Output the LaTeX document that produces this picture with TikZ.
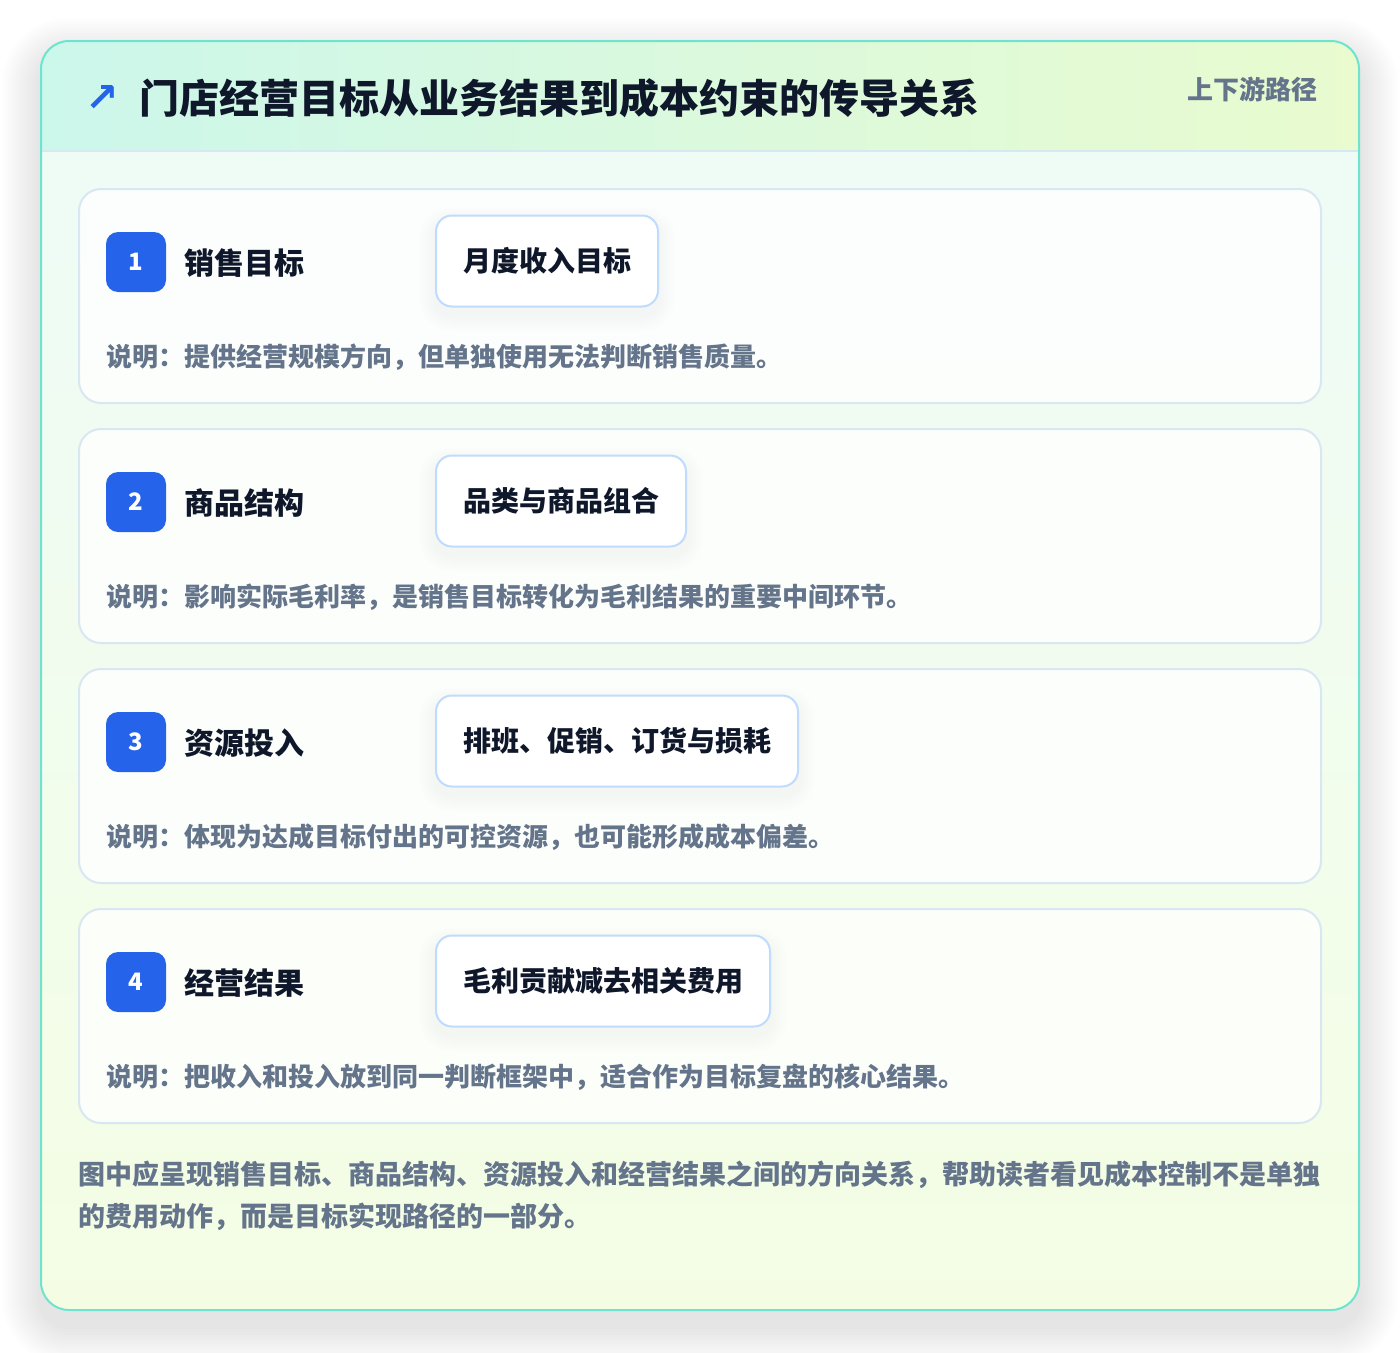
\documentclass[tikz,border=0pt]{standalone}
\usepackage{fontspec}
\setmainfont{Noto Sans CJK SC}
\newfontfamily\symfont{DejaVu Sans}

\definecolor{badgeblue}{HTML}{2563EB}
\definecolor{titleink}{HTML}{0F172A}
\definecolor{slate}{HTML}{64748B}
\definecolor{boxline}{HTML}{BFDBFE}
\definecolor{cardline}{HTML}{D9E7F3}
\definecolor{frameteal}{HTML}{6EE3CE}
\definecolor{headleft}{HTML}{CCF7EB}
\definecolor{headright}{HTML}{E9FBCF}
\definecolor{headrule}{HTML}{D6E9F2}
\definecolor{bodytop}{HTML}{EEFCF8}
\definecolor{bodybottom}{HTML}{F4FDE4}

\pgfdeclarelayer{cards}
\pgfdeclarelayer{glow}
\pgfsetlayers{cards,glow,main}

\tikzset{
  stepcard/.style={draw=cardline, line width=2pt, fill=white, fill opacity=0.8,
    text opacity=1, rounded corners=22pt, minimum width=1242pt, minimum height=214pt},
  badge/.style={fill=badgeblue, rounded corners=12pt, minimum size=60pt, inner sep=0pt,
    text=white, font=\fontsize{24}{28}\selectfont\bfseries},
  steptitle/.style={anchor=west, inner sep=0pt, text=titleink,
    font=\fontsize{30}{36}\selectfont\bfseries},
  metricbox/.style={anchor=west, draw=boxline, line width=2pt, fill=white,
    rounded corners=16pt, minimum height=91pt, inner xsep=27pt, text=titleink,
    font=\fontsize{28}{34}\selectfont\bfseries},
  note/.style={anchor=west, inner sep=0pt, text=slate,
    font=\fontsize{26}{32}\selectfont\bfseries},
  haze/.style={fill=black, opacity=#1},
}

% soft shadow under a metric box
\newcommand{\boxglow}[1]{%
  \begin{pgfonlayer}{glow}
    \foreach \s in {2,4,...,16}
      \fill[haze=0.005, rounded corners=16pt+\s]
        ([shift={(-\s,-\s+8)}]#1.north west) rectangle ([shift={(\s,\s+8)}]#1.south east);
  \end{pgfonlayer}}

\begin{document}
\begin{tikzpicture}[x=1pt, y=-1pt]
\useasboundingbox (0,0) rectangle (1400,1352);

\begin{pgfonlayer}{cards}
\fill[white] (0,0) rectangle (1400,1352);
% soft shadow of the panel
\foreach \s in {3,6,...,39}
  \fill[haze=0.0065, rounded corners=28pt+\s] (41-\s,41-\s+16) rectangle (1359+\s,1310+\s+16);

% outer panel
\shade[rounded corners=28pt, top color=bodytop, bottom color=bodybottom]
  (41,41) rectangle (1359,1310);
\begin{scope}
  \clip[rounded corners=28pt] (41,41) rectangle (1359,1310);
  \shade[left color=headleft, right color=headright] (41,41) rectangle (1359,151);
  \draw[headrule, line width=2pt] (41,151) -- (1359,151);
\end{scope}
\draw[frameteal, line width=2pt, rounded corners=28pt] (41,41) rectangle (1359,1310);

\node[stepcard] (card1) at (700,296) {};
\node[stepcard] (card2) at (700,536) {};
\node[stepcard] (card3) at (700,776) {};
\node[stepcard] (card4) at (700,1016) {};
\end{pgfonlayer}

% header
\node[text=badgeblue, font=\symfont\bfseries\fontsize{40}{44}\selectfont] (icon) at (102,98) {↗};
\node[anchor=west, inner sep=0pt, text=titleink, font=\fontsize{40}{46}\selectfont\bfseries]
  (title) at (139,98) {门店经营目标从业务结果到成本约束的传导关系};
\node[anchor=east, inner sep=0pt, text=slate, font=\fontsize{26}{30}\selectfont\bfseries]
  (tag) at (1318,89) {上下游路径};

% step 1
\node[badge] (num1) at (136,262) {1};
\node[steptitle] (name1) at (184,263) {销售目标};
\node[metricbox] (box1) at (435,261) {月度收入目标};
\boxglow{box1}
\node[note] (note1) at (106,357) {说明：提供经营规模方向，但单独使用无法判断销售质量。};

% step 2
\node[badge] (num2) at (136,502) {2};
\node[steptitle] (name2) at (184,503) {商品结构};
\node[metricbox] (box2) at (435,501) {品类与商品组合};
\boxglow{box2}
\node[note] (note2) at (106,597) {说明：影响实际毛利率，是销售目标转化为毛利结果的重要中间环节。};

% step 3
\node[badge] (num3) at (136,742) {3};
\node[steptitle] (name3) at (184,743) {资源投入};
\node[metricbox] (box3) at (435,741) {排班、促销、订货与损耗};
\boxglow{box3}
\node[note] (note3) at (106,837) {说明：体现为达成目标付出的可控资源，也可能形成成本偏差。};

% step 4
\node[badge] (num4) at (136,982) {4};
\node[steptitle] (name4) at (184,983) {经营结果};
\node[metricbox] (box4) at (435,981) {毛利贡献减去相关费用};
\boxglow{box4}
\node[note] (note4) at (106,1077) {说明：把收入和投入放到同一判断框架中，适合作为目标复盘的核心结果。};

% closing remark
\node[note, font=\fontsize{27}{32}\selectfont\bfseries] (summary1) at (78,1175)
  {图中应呈现销售目标、商品结构、资源投入和经营结果之间的方向关系，帮助读者看见成本控制不是单独};
\node[note, font=\fontsize{27}{32}\selectfont\bfseries] (summary2) at (78,1217)
  {的费用动作，而是目标实现路径的一部分。};
\end{tikzpicture}
\end{document}
